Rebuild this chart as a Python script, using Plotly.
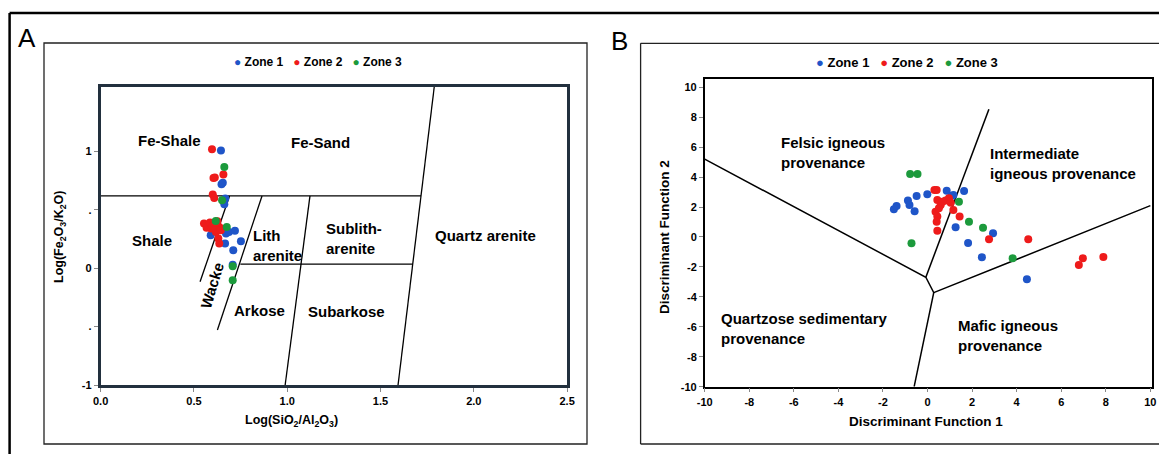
import plotly.graph_objects as go

W, H = 1167, 454
OFF = 8  # page body margin offset
BLUE, RED, GREEN = "#1f55c8", "#ee1b1b", "#1c9a3c"
FONT = "Liberation Sans, Arial, sans-serif"

# ---------------- Panel A data (Herron diagram) ----------------
zone1_A_x = [0.645, 0.648, 0.655, 0.668, 0.663, 0.590, 0.672, 0.688, 0.720, 0.667, 0.752, 0.711, 0.708]
zone1_A_y = [1.006, 0.718, 0.730, 0.596, 0.547, 0.282, 0.297, 0.310, 0.319, 0.211, 0.231, 0.154, 0.030]
zone2_A_x = [0.597, 0.658, 0.605, 0.612, 0.601, 0.609, 0.554, 0.568, 0.586, 0.608, 0.626, 0.636,
             0.592, 0.618, 0.644, 0.631, 0.636, 0.600, 0.615]
zone2_A_y = [1.017, 0.801, 0.772, 0.776, 0.630, 0.601, 0.382, 0.345, 0.391, 0.368, 0.402, 0.353,
             0.339, 0.310, 0.325, 0.254, 0.211, 0.360, 0.390]
zone3_A_x = [0.663, 0.651, 0.617, 0.676, 0.708, 0.708]
zone3_A_y = [0.866, 0.581, 0.404, 0.353, 0.017, -0.103]

herron_bounds_x = [[0.0, 1.717], [1.788, 1.594], [1.122, 0.989], [0.749, 1.671], [0.865, 0.626], [0.691, 0.533]]
herron_bounds_y = [[0.618, 0.618], [1.55, -1.0], [0.618, -1.0], [0.034, 0.034], [0.618, -0.53], [0.618, -0.117]]

herron_labels = ["Fe-Shale", "Fe-Sand", "Shale", "Lith<br>arenite", "Sublith-<br>arenite",
                 "Quartz arenite", "Arkose", "Subarkose"]
herron_lab_x = [0.369, 1.179, 0.277, 0.804, 1.198, 2.061, 0.851, 1.317]
herron_lab_y = [1.088, 1.079, 0.233, 0.197, 0.254, 0.282, -0.365, -0.374]
herron_lab_anchor = ["center", "center", "center", "left", "left", "center", "center", "center"]
wacke_label, wacke_x, wacke_y = "Wacke", 0.595, -0.145

x_ticks_A = [0.0, 0.5, 1.0, 1.5, 2.0, 2.5]
x_ticktext_A = ["0.0", "0.5", "1.0", "1.5", "2.0", "2.5"]
y_ticks_A = [-1, -0.5, 0, 0.5, 1]
y_ticktext_A = ["-1", ".", "0", ".", "1"]

# ---------------- Panel B data (discriminant functions) ----------------
zone1_B_x = [-1.51, -1.39, -0.88, -0.81, -0.58, -0.49, -0.01, 0.86, 1.07, 1.16, 1.64, 1.26, 2.94, 1.82, 2.44, 4.46]
zone1_B_y = [1.85, 2.07, 2.43, 2.14, 1.72, 2.74, 2.85, 3.09, 2.74, 2.81, 3.07, 0.65, 0.25, -0.40, -1.35, -2.83]
zone2_B_x = [0.31, 0.41, 0.44, 0.59, 0.81, 0.96, 1.04, 0.36, 0.51, 0.44, 0.41, 0.44, 1.16, 0.67, 1.44,
             2.76, 4.52, 6.79, 6.97, 7.89]
zone2_B_y = [3.14, 3.14, 2.47, 2.14, 2.43, 2.58, 2.29, 1.69, 1.92, 1.36, 1.02, 0.42, 1.80, 2.36, 1.36,
             -0.15, -0.15, -1.87, -1.42, -1.33]
zone3_B_x = [-0.78, -0.45, -0.72, 1.41, 1.86, 2.49, 3.82]
zone3_B_y = [4.21, 4.21, -0.42, 2.36, 1.02, 0.62, -1.42]

df_bounds_x = [[-10, -0.076, 0.278, 10], [-0.076, 2.755], [0.278, -0.6]]
df_bounds_y = [[5.2, -2.69, -3.72, 2.09], [-2.69, 8.53], [-3.72, -10]]

df_labels = ["Felsic igneous<br>provenance", "Intermediate<br>igneous provenance",
             "Quartzose sedimentary<br>provenance", "Mafic igneous<br>provenance"]
df_lab_x = [-6.68, 2.70, -9.38, 1.29]
df_lab_y = [5.65, 4.94, -6.10, -6.55]

ticks_B = [-10, -8, -6, -4, -2, 0, 2, 4, 6, 8, 10]
ticktext_B = [str(v) for v in ticks_B]

zone_names = ["Zone 1", "Zone 2", "Zone 3"]
zone_colors = [BLUE, RED, GREEN]

fig = go.Figure()

for bx, by in zip(herron_bounds_x, herron_bounds_y):
    fig.add_trace(go.Scatter(x=bx, y=by, mode="lines", line=dict(color="black", width=1.3),
                             showlegend=False, hoverinfo="skip", xaxis="x", yaxis="y"))
for bx, by in zip(df_bounds_x, df_bounds_y):
    fig.add_trace(go.Scatter(x=bx, y=by, mode="lines", line=dict(color="black", width=1.5),
                             showlegend=False, hoverinfo="skip", xaxis="x2", yaxis="y2"))

A_sets = [(zone1_A_x, zone1_A_y), (zone2_A_x, zone2_A_y), (zone3_A_x, zone3_A_y)]
B_sets = [(zone1_B_x, zone1_B_y), (zone2_B_x, zone2_B_y), (zone3_B_x, zone3_B_y)]
for (ax, ay), name, col in zip(A_sets, zone_names, zone_colors):
    fig.add_trace(go.Scatter(x=ax, y=ay, mode="markers", name=name, showlegend=False,
                             marker=dict(color=col, size=8), xaxis="x", yaxis="y"))
for (bx, by), name, col in zip(B_sets, zone_names, zone_colors):
    fig.add_trace(go.Scatter(x=bx, y=by, mode="markers", name=name, showlegend=False,
                             marker=dict(color=col, size=8), xaxis="x2", yaxis="y2"))

def bold(size):
    return dict(family=FONT, size=size, color="black", weight="bold")

annotations = []
for t, x, y, anc in zip(herron_labels, herron_lab_x, herron_lab_y, herron_lab_anchor):
    annotations.append(dict(text=t, x=x, y=y, xref="x", yref="y", xanchor=anc, yanchor="middle",
                            align="left", showarrow=False, font=bold(15)))
annotations.append(dict(text=wacke_label, x=wacke_x, y=wacke_y, xref="x", yref="y", textangle=-73,
                        xanchor="center", yanchor="middle", showarrow=False, font=bold(15)))
for t, x, y in zip(df_labels, df_lab_x, df_lab_y):
    annotations.append(dict(text=t, x=x, y=y, xref="x2", yref="y2", xanchor="left", yanchor="middle",
                            align="left", showarrow=False, font=bold(15)))

# screen-pixel -> paper conversion (compensating page margin)
def px(x): return (x - OFF) / W
def py(y): return 1 - (y - OFF) / H

sp = "\u00a0"
leg_txt = (sp * 3).join(f"<span style='color:{c}'>●</span>{sp}{n}" for n, c in zip(zone_names, zone_colors))
annotations.append(dict(text=leg_txt, x=px(318), y=py(62), xref="paper", yref="paper",
                        xanchor="center", yanchor="middle", showarrow=False, font=bold(12)))
annotations.append(dict(text=leg_txt, x=px(907), y=py(62), xref="paper", yref="paper",
                        xanchor="center", yanchor="middle", showarrow=False, font=bold(13)))

def lab(text, x, y, size, angle=0, weight="bold"):
    return dict(text=text, x=px(x), y=py(y), xref="paper", yref="paper", xanchor="center",
                yanchor="middle", textangle=angle, showarrow=False,
                font=dict(family=FONT, size=size, color="black", weight=weight))

annotations += [
    lab("Log(SiO<sub>2</sub>/Al<sub>2</sub>O<sub>3</sub>)", 291, 421, 12.5),
    lab("Log(Fe<sub>2</sub>O<sub>3</sub>/K<sub>2</sub>O)", 60, 237, 12.5, -90),
    lab("Discriminant Function 1", 926, 421, 13.5),
    lab("Discriminant Function 2", 664, 237, 13.5, -90),
    lab("A", 26.5, 38, 26, weight="normal"),
    lab("B", 619, 41, 26, weight="normal"),
]

frame = dict(color="black", width=2.5)
box = dict(color="#222", width=1.3)
shapes = [
    dict(type="line", xref="paper", yref="paper", x0=px(9.6), y0=py(13), x1=1, y1=py(13), line=frame),
    dict(type="line", xref="paper", yref="paper", x0=px(9.6), y0=py(13), x1=px(9.6), y1=0, line=frame),
    dict(type="rect", xref="paper", yref="paper", x0=px(44), y0=py(444), x1=px(587), y1=py(43), line=box),
    dict(type="line", xref="paper", yref="paper", x0=px(640.6), y0=py(43.3), x1=1, y1=py(43.3), line=box),
    dict(type="line", xref="paper", yref="paper", x0=px(640.6), y0=py(444), x1=1, y1=py(444), line=box),
    dict(type="line", xref="paper", yref="paper", x0=px(640.6), y0=py(43.3), x1=px(640.6), y1=py(444), line=box),
]

common = dict(showgrid=False, zeroline=False, showline=True, mirror=True, ticks="outside",
              ticklen=4, tickcolor="#888", tickfont=bold(11), fixedrange=True, automargin=False)

fig.update_layout(
    width=W, height=H, margin=dict(l=0, r=0, t=0, b=0, autoexpand=False),
    paper_bgcolor="white", plot_bgcolor="white", showlegend=False,
    xaxis=dict(domain=[px(100.6), px(567.1)], range=[0, 2.5], tickvals=x_ticks_A, ticktext=x_ticktext_A,
               linecolor="#22303e", linewidth=2.5, anchor="y", **common),
    yaxis=dict(domain=[py(385), py(87)], range=[-1, 1.55], tickvals=y_ticks_A, ticktext=y_ticktext_A,
               linecolor="#22303e", linewidth=2.5, anchor="x", **common),
    xaxis2=dict(domain=[px(704.7), px(1151.7)], range=[-10, 10.06], tickvals=ticks_B, ticktext=ticktext_B,
                linecolor="black", linewidth=1.5, anchor="y2", **common),
    yaxis2=dict(domain=[py(386.7), py(79.3)], range=[-10, 10.53], tickvals=ticks_B, ticktext=ticktext_B,
                linecolor="black", linewidth=1.5, anchor="x2", **common),
    annotations=annotations, shapes=shapes,
)

fig.write_html("out.html")
